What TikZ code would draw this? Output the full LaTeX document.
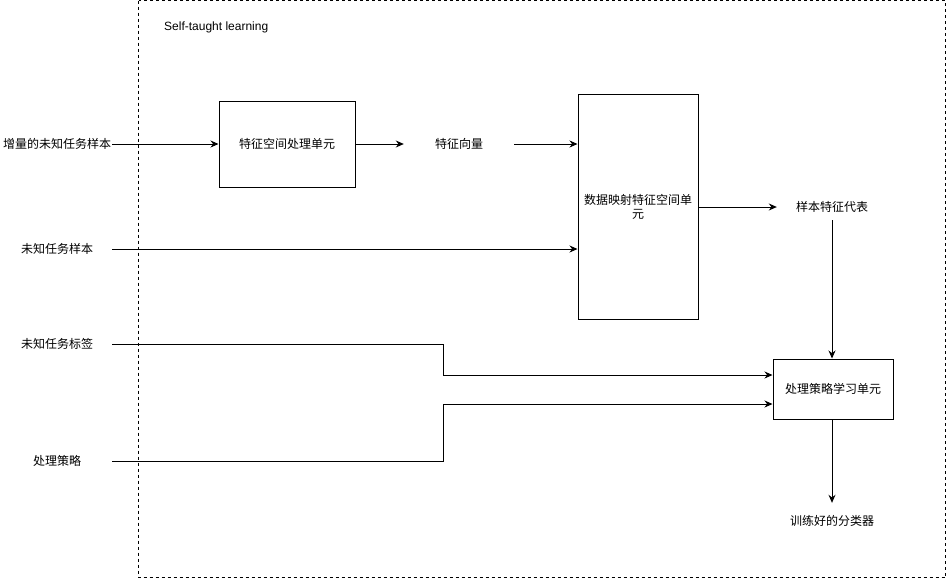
\documentclass[tikz,border=0pt]{standalone}
\usepackage{fontspec}
\setmainfont{Liberation Sans}
\newfontfamily\cjk{Noto Sans CJK SC}
\usetikzlibrary{arrows.meta}

\begin{document}
\begin{tikzpicture}[x=1pt, y=-1pt,
    font=\cjk\fontsize{12}{14}\selectfont,
    unit/.style={draw, line width=1pt, inner sep=0pt, align=center},
    tag/.style={minimum width=110pt, minimum height=24pt, inner sep=0pt},
    flow/.style={-{Stealth[length=8pt,width=7pt]}, line width=1pt}]

    \useasboundingbox (0, 0) rectangle (947, 579);

    % Self-taught learning frame
    \draw[dash pattern=on 3pt off 3pt, line width=1pt] (138.5, 0.5) rectangle (945.5, 577.5);
    \node[anchor=west, inner sep=0pt, font=\normalfont\fontsize{12}{14}\selectfont] (title) at (164, 27) {Self-taught learning};

    % inputs
    \node[tag] (incr) at (57, 144) {增量的未知任务样本};
    \node[tag] (sample) at (57, 249) {未知任务样本};
    \node[tag] (label) at (57, 344) {未知任务标签};
    \node[tag] (policy) at (57, 461) {处理策略};

    % units
    \node[unit, minimum width=136pt, minimum height=86pt] (featunit) at (287, 144) {特征空间处理单元};
    \node[unit, minimum width=120pt, minimum height=225pt] (mapunit) at (638, 207) {数据映射特征空间单\\元};
    \node[unit, minimum width=120pt, minimum height=60pt] (learnunit) at (833, 389) {处理策略学习单元};

    % intermediate texts
    \node[tag] (vec) at (459, 144) {特征向量};
    \node[tag, minimum height=26pt] (repr) at (832, 207) {样本特征代表};
    \node[tag, minimum height=36pt] (clf) at (832, 521) {训练好的分类器};

    % connectors
    \draw[flow] (incr) -- (featunit);
    \draw[flow] (featunit) -- (vec);
    \draw[flow] (vec) -- (mapunit.west |- vec);
    \draw[flow] (sample) -- (mapunit.west |- sample);
    \draw[flow] (mapunit) -- (repr);
    \draw[flow] (repr) -- (repr |- learnunit.north);

    \coordinate (bendA) at (443, 375);
    \coordinate (bendB) at (443, 404);
    \draw[flow] (label) -| (bendA) -- (learnunit.west |- bendA);
    \draw[flow] (policy) -| (bendB) -- (learnunit.west |- bendB);

    \draw[flow] (learnunit.south -| clf) -- (clf);

\end{tikzpicture}
\end{document}
